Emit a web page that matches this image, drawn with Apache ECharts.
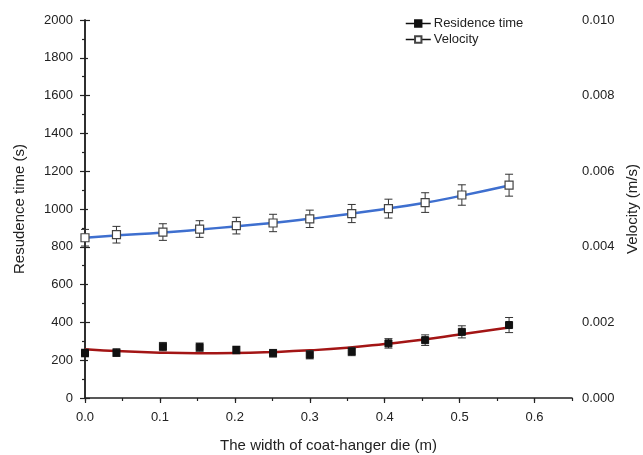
<!DOCTYPE html>
<html>
<head>
<meta charset="utf-8">
<script src="https://cdn.jsdelivr.net/npm/echarts@6/dist/echarts.min.js"></script>
<style>
  html, body { margin: 0; padding: 0; background: #fff; }
  #chart { width: 643px; height: 455px; }
</style>
</head>
<body>
<div id="chart"></div>
<script>
// measured positions along the die width (m)
const widths = [0, 0.042, 0.104, 0.153, 0.202, 0.251, 0.3, 0.356, 0.405, 0.454, 0.503, 0.566];

const residence = [238, 240, 272, 269, 254, 237, 229, 246, 289, 306, 350, 386];
const residenceErr = [20, 20, 22, 22, 20, 20, 22, 22, 25, 28, 32, 40];

const velocity = [0.00424, 0.00432, 0.00439, 0.00447, 0.00456, 0.00463, 0.00474, 0.00488, 0.00501, 0.00517, 0.00537, 0.00563];
const velocityErr = [0.00022, 0.00022, 0.00022, 0.00022, 0.00022, 0.00023, 0.00023, 0.00024, 0.00025, 0.00026, 0.00027, 0.00029];

// fitted curves
const fitX = [0, 0.05, 0.1, 0.15, 0.2, 0.25, 0.3, 0.35, 0.4, 0.45, 0.5, 0.566];
const residenceFit = [258, 247, 240, 237, 238, 243, 252, 266, 286, 308, 336, 373];
const velocityFit = [0.00424, 0.00431, 0.00437, 0.00445, 0.00454, 0.00463, 0.00474, 0.00486, 0.005, 0.00515, 0.00534, 0.00562];

const font = 'Liberation Sans, Arial, sans-serif';
const ink = '#222';

const chart = echarts.init(document.getElementById('chart'));

const pairs = (xs, ys) => xs.map((x, i) => [x, ys[i]]);
const bars = (ys, es) => widths.map((x, i) => [x, ys[i] - es[i], ys[i] + es[i]]);

function errorBar(params, api) {
    const x = api.value(0);
    const lo = api.coord([x, api.value(1)]);
    const hi = api.coord([x, api.value(2)]);
    const w = 4;
    const style = { stroke: '#333', lineWidth: 1 };
    return {
        type: 'group',
        children: [
            { type: 'line', shape: { x1: lo[0], y1: lo[1], x2: hi[0], y2: hi[1] }, style },
            { type: 'line', shape: { x1: lo[0] - w, y1: lo[1], x2: lo[0] + w, y2: lo[1] }, style },
            { type: 'line', shape: { x1: hi[0] - w, y1: hi[1], x2: hi[0] + w, y2: hi[1] }, style }
        ]
    };
}

const option = {
    backgroundColor: '#fff',
    animation: false,
    textStyle: { fontFamily: font },
    grid: { left: 85, right: 71, top: 20, bottom: 57, containLabel: false, outerBoundsMode: 'none' },
    legend: {
        data: ['Residence time', 'Velocity'],
        orient: 'vertical',
        left: 400,
        top: 12,
        itemWidth: 25,
        itemHeight: 8,
        itemGap: 3,
        textStyle: { fontFamily: font, fontSize: 13, color: ink, padding: [0, 0, 0, -2] },
        lineStyle: { color: '#111', width: 1.5, opacity: 1 }
    },
    xAxis: [
        {
            type: 'value',
            min: 0,
            max: 0.65,
            interval: 0.1,
            name: 'The width of coat-hanger die (m)',
            nameLocation: 'middle',
            nameGap: 40,
            nameTextStyle: { fontFamily: font, fontSize: 15, color: ink },
            axisLine: { show: true, lineStyle: { color: ink, width: 1.5 } },
            axisTick: { show: true, length: 5, lineStyle: { color: ink, width: 1.2 } },
            axisLabel: { showMaxLabel: false, margin: 13, fontSize: 13, color: ink, fontFamily: font,
                formatter: v => v.toFixed(1) },
            splitLine: { show: false }
        },
        {
            type: 'value',
            position: 'bottom',
            min: 0,
            max: 0.65,
            interval: 0.05,
            axisLine: { show: false },
            axisTick: { show: true, length: 3, lineStyle: { color: ink, width: 1.2 } },
            axisLabel: { show: false },
            splitLine: { show: false }
        }
    ],
    yAxis: [
        {
            type: 'value',
            min: 0,
            max: 2000,
            interval: 200,
            name: 'Resudence time (s)',
            nameLocation: 'middle',
            nameGap: 58,
            nameTextStyle: { fontFamily: font, fontSize: 15, color: ink },
            axisLine: { show: true, lineStyle: { color: ink, width: 1.5 } },
            axisTick: { show: true, length: 5, lineStyle: { color: ink, width: 1.2 } },
            minorTick: { show: true, splitNumber: 2, length: 3, lineStyle: { color: ink, width: 1.2 } },
            axisLabel: { margin: 12, fontSize: 13, color: ink, fontFamily: font,
                formatter: v => String(v) },
            splitLine: { show: false }
        },
        {
            type: 'value',
            position: 'right',
            min: 0,
            max: 0.01,
            interval: 0.002,
            name: 'Velocity (m/s)',
            nameLocation: 'middle',
            nameGap: 53,
            nameTextStyle: { fontFamily: font, fontSize: 15, color: ink },
            axisLine: { show: true, lineStyle: { color: ink, width: 1.5 } },
            axisTick: { show: true, length: 5, lineStyle: { color: ink, width: 1.2 } },
            minorTick: { show: true, splitNumber: 2, length: 3, lineStyle: { color: ink, width: 1.2 } },
            axisLabel: { margin: 10, fontSize: 13, color: ink, fontFamily: font,
                formatter: v => v.toFixed(3) },
            splitLine: { show: false }
        }
    ],
    series: [
        {
            name: 'Residence fit',
            type: 'line',
            smooth: true,
            symbol: 'none',
            data: pairs(fitX, residenceFit),
            lineStyle: { color: '#a31515', width: 2.5 },
            z: 2
        },
        {
            name: 'Velocity fit',
            type: 'line',
            yAxisIndex: 1,
            smooth: true,
            symbol: 'none',
            data: pairs(fitX, velocityFit),
            lineStyle: { color: '#3e6fcf', width: 2.5 },
            z: 2
        },
        {
            name: 'Residence error',
            type: 'custom',
            renderItem: errorBar,
            data: bars(residence, residenceErr),
            encode: { x: 0, y: [1, 2] },
            z: 3
        },
        {
            name: 'Velocity error',
            type: 'custom',
            yAxisIndex: 1,
            renderItem: errorBar,
            data: bars(velocity, velocityErr),
            encode: { x: 0, y: [1, 2] },
            z: 3
        },
        {
            name: 'Residence time',
            type: 'line',
            data: pairs(widths, residence),
            symbol: 'rect',
            symbolSize: 7,
            showAllSymbol: true,
            itemStyle: { color: '#111', borderColor: '#111', borderWidth: 1 },
            lineStyle: { width: 0, opacity: 0, color: '#111' },
            z: 4
        },
        {
            name: 'Velocity',
            type: 'line',
            yAxisIndex: 1,
            data: pairs(widths, velocity),
            symbol: 'rect',
            symbolSize: 8,
            showAllSymbol: true,
            itemStyle: { color: '#fff', borderColor: '#444', borderWidth: 1.2 },
            lineStyle: { width: 0, opacity: 0, color: '#111' },
            z: 4
        }
    ]
};

chart.setOption(option);
</script>
</body>
</html>
